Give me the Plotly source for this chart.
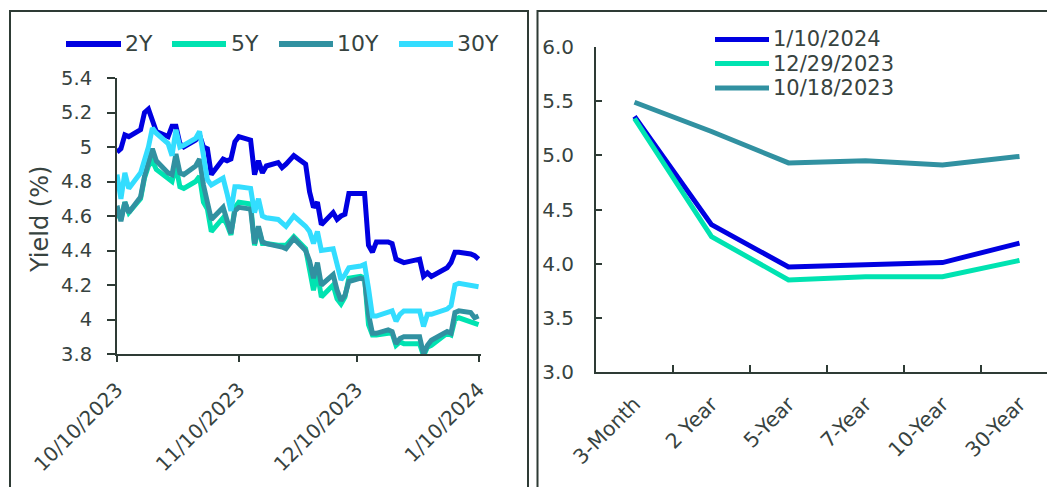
import plotly.graph_objects as go

W, H = 1055, 487
OFF = 8  # page body margin in the browser

# ---------------- data: left panel (daily yields) ----------------
dates = [
    "2023-10-10", "2023-10-11", "2023-10-12", "2023-10-13", "2023-10-16", "2023-10-17", "2023-10-18",
    "2023-10-19", "2023-10-20", "2023-10-23", "2023-10-24", "2023-10-25", "2023-10-26", "2023-10-27",
    "2023-10-30", "2023-10-31",
    "2023-11-01", "2023-11-02", "2023-11-03", "2023-11-06", "2023-11-07", "2023-11-08", "2023-11-09",
    "2023-11-10", "2023-11-13", "2023-11-14", "2023-11-15", "2023-11-16", "2023-11-17", "2023-11-20",
    "2023-11-21", "2023-11-22", "2023-11-24", "2023-11-27", "2023-11-28", "2023-11-29", "2023-11-30",
    "2023-12-01", "2023-12-04", "2023-12-05", "2023-12-06", "2023-12-07", "2023-12-08", "2023-12-11",
    "2023-12-12", "2023-12-13", "2023-12-14", "2023-12-15", "2023-12-18", "2023-12-19", "2023-12-20",
    "2023-12-21", "2023-12-22", "2023-12-26", "2023-12-27", "2023-12-28", "2023-12-29",
    "2024-01-02", "2024-01-03", "2024-01-04", "2024-01-05", "2024-01-08", "2024-01-09", "2024-01-10",
]

y2 = [4.97, 4.99, 5.07, 5.06, 5.10, 5.20, 5.22, 5.16, 5.09, 5.06, 5.12, 5.12, 5.02, 5.00, 5.04, 5.07,
      5.00, 4.99, 4.84, 4.93, 4.92, 4.93, 5.03, 5.06, 5.04, 4.84, 4.92, 4.85, 4.89, 4.91, 4.88, 4.90,
      4.95, 4.90, 4.74, 4.65, 4.68,
      4.55, 4.62, 4.58, 4.60, 4.61, 4.73, 4.73, 4.73, 4.43, 4.39, 4.45, 4.45, 4.44, 4.35, 4.34, 4.33,
      4.35, 4.25, 4.27, 4.25,
      4.30, 4.33, 4.39, 4.39, 4.38, 4.37, 4.35]
y5 = [4.62, 4.58, 4.68, 4.62, 4.70, 4.82, 4.89, 4.92, 4.87, 4.82, 4.80, 4.89, 4.77, 4.76, 4.80, 4.83,
      4.68, 4.64, 4.51, 4.59, 4.55, 4.49, 4.65, 4.68, 4.67, 4.43, 4.53, 4.44, 4.44, 4.43, 4.43, 4.43,
      4.48, 4.41, 4.29, 4.17, 4.27,
      4.13, 4.20, 4.12, 4.09, 4.13, 4.24, 4.25, 4.24, 3.97, 3.91, 3.91, 3.92, 3.92, 3.85, 3.87, 3.86,
      3.86, 3.79, 3.84, 3.85,
      3.92, 3.91, 4.00, 4.01, 3.99, 3.98, 3.97]
y10 = [4.66, 4.57, 4.68, 4.62, 4.71, 4.83, 4.91, 4.99, 4.92, 4.85, 4.84, 4.96, 4.85, 4.84, 4.89, 4.93,
       4.78, 4.67, 4.58, 4.65, 4.58, 4.50, 4.63, 4.65, 4.64, 4.44, 4.54, 4.45, 4.44, 4.43, 4.42, 4.41,
       4.47, 4.40, 4.34, 4.24, 4.33,
       4.20, 4.26, 4.17, 4.11, 4.14, 4.22, 4.24, 4.23, 4.03, 3.92, 3.92, 3.94, 3.93, 3.86, 3.89, 3.90,
       3.90, 3.80, 3.85, 3.88,
       3.93, 3.92, 4.04, 4.05, 4.04, 4.01, 4.02]
y30 = [4.84, 4.70, 4.85, 4.76, 4.85, 4.93, 5.00, 5.11, 5.08, 5.02, 4.95, 5.10, 5.00, 5.01, 5.05, 5.09,
       4.94, 4.81, 4.78, 4.82, 4.73, 4.63, 4.77, 4.77, 4.76, 4.62, 4.70, 4.60, 4.59, 4.58, 4.56, 4.54,
       4.60, 4.54, 4.51, 4.44, 4.51,
       4.40, 4.41, 4.33, 4.23, 4.26, 4.30, 4.31, 4.32, 4.18, 4.02, 4.02, 4.04, 4.05, 3.99, 4.03, 4.05,
       4.05, 3.96, 4.03, 4.03,
       4.06, 4.08, 4.20, 4.21, 4.20, 4.19, 4.19]

left_names = ["2Y", "5Y", "10Y", "30Y"]
left_x_tickvals = ["2023-10-10", "2023-11-10", "2023-12-10", "2024-01-10"]
left_x_ticktext = ["10/10/2023", "11/10/2023", "12/10/2023", "1/10/2024"]
left_y_tickvals = [3.8, 4.0, 4.2, 4.4, 4.6, 4.8, 5.0, 5.2, 5.4]
left_y_ticktext = ["3.8", "4", "4.2", "4.4", "4.6", "4.8", "5", "5.2", "5.4"]

# ---------------- data: right panel (yield curve) ----------------
tenors = ["3-Month", "2 Year", "5-Year", "7-Year", "10-Year", "30-Year"]
curve_names = ["1/10/2024", "12/29/2023", "10/18/2023"]
c_20240110 = [5.36, 4.36, 3.97, 3.99, 4.01, 4.19]
c_20231229 = [5.34, 4.25, 3.85, 3.88, 3.88, 4.03]
c_20231018 = [5.49, 5.22, 4.93, 4.95, 4.91, 4.99]

# ---------------- styles ----------------
BLUE = "#0000E1"
MINT = "#00E3B1"
TEAL = "#3191A1"
CYAN = "#33DDFF"
TXT = "#37433F"
AX = "#2E3B35"
FONT = "DejaVu Sans"

left_colors = [BLUE, MINT, TEAL, CYAN]
right_colors = [BLUE, MINT, TEAL]


def px(x):
    return (x - OFF) / W


def py(y):
    return 1 - (y - OFF) / H


fig = go.Figure()

for name, vals, col in zip(left_names, [y2, y5, y10, y30], left_colors):
    fig.add_trace(go.Scatter(x=dates, y=vals, name=name, mode="lines",
                             line=dict(color=col, width=5), xaxis="x", yaxis="y",
                             showlegend=False))

for name, vals, col in zip(curve_names, [c_20240110, c_20231229, c_20231018], right_colors):
    fig.add_trace(go.Scatter(x=tenors, y=vals, name=name, mode="lines",
                             line=dict(color=col, width=5), xaxis="x2", yaxis="y2",
                             showlegend=False))

fig.update_layout(
    width=W, height=H,
    margin=dict(l=0, r=0, t=0, b=0, autoexpand=False),
    paper_bgcolor="white", plot_bgcolor="white",
    showlegend=False,
    xaxis=dict(
        type="date", domain=[px(117), px(481)], automargin=False,
        range=["2023-10-10", "2024-01-10 15:00"],
        tickvals=left_x_tickvals, ticktext=left_x_ticktext, tickangle=-45,
        tickfont=dict(family=FONT, size=20, color=TXT), ticks="outside", ticklen=6, tickwidth=2,
        tickcolor=AX, ticklabelstandoff=8,
        showline=True, linecolor=AX, linewidth=2, showgrid=False, zeroline=False,
        anchor="y",
    ),
    yaxis=dict(
        domain=[py(354), py(78)], range=[3.8, 5.4], automargin=False,
        tickvals=left_y_tickvals, ticktext=left_y_ticktext,
        tickfont=dict(family=FONT, size=19.5, color=TXT), ticks="outside", ticklen=8, tickwidth=2,
        tickcolor=AX,
        showline=True, linecolor=AX, linewidth=2, showgrid=False, zeroline=False,
        anchor="x", ticklabelstandoff=11,
    ),
    xaxis2=dict(
        type="category", domain=[px(596), px(1058)], range=[-0.5, 5.5],
        automargin=False,
        tickson="boundaries", tickangle=-45, tickfont=dict(family=FONT, size=20.5, color=TXT),
        ticks="inside", ticklen=7, tickwidth=2, tickcolor=AX, ticklabelstandoff=10,
        showline=True, linecolor=AX, linewidth=2, showgrid=False, zeroline=False,
        anchor="y2",
    ),
    yaxis2=dict(
        domain=[py(372), py(47)], range=[3.0, 6.0], dtick=0.5, tickformat=".1f",
        automargin=False,
        tickfont=dict(family=FONT, size=20, color=TXT),
        ticks="inside", ticklen=6, tickwidth=2, tickcolor=AX,
        showline=True, linecolor=AX, linewidth=2, showgrid=False, zeroline=False,
        anchor="x2", ticklabelstandoff=16,
    ),
)

shapes = [
    dict(type="rect", xref="paper", yref="paper", x0=px(10), x1=px(528), y0=py(540), y1=py(11),
         line=dict(color=AX, width=2), fillcolor="rgba(0,0,0,0)", layer="below"),
    dict(type="rect", xref="paper", yref="paper", x0=px(537.5), x1=px(1090), y0=py(540), y1=py(11),
         line=dict(color=AX, width=2), fillcolor="rgba(0,0,0,0)", layer="below"),
]
annotations = [
    dict(text="Yield (%)", xref="paper", yref="paper", x=px(40), y=py(220), textangle=-90,
         showarrow=False, font=dict(family=FONT, size=24, color=TXT), xanchor="center", yanchor="middle"),
]

# left legend (manual)
left_leg = [(66, 121, 123), (172, 226, 229), (279, 333, 335), (399, 453, 455)]
for (x0, x1, xt), name, col in zip(left_leg, left_names, left_colors):
    shapes.append(dict(type="line", xref="paper", yref="paper", x0=px(x0), x1=px(x1),
                       y0=py(44), y1=py(44), line=dict(color=col, width=6)))
    annotations.append(dict(text=name, xref="paper", yref="paper", x=px(xt), y=py(44),
                            xanchor="left", yanchor="middle", showarrow=False,
                            font=dict(family=FONT, size=22, color=TXT)))

# right legend (manual)
for yy, name, col in zip([39.5, 63.5, 88], curve_names, right_colors):
    shapes.append(dict(type="line", xref="paper", yref="paper", x0=px(715), x1=px(769),
                       y0=py(yy), y1=py(yy), line=dict(color=col, width=5)))
    annotations.append(dict(text=name, xref="paper", yref="paper", x=px(771), y=py(yy),
                            xanchor="left", yanchor="middle", showarrow=False,
                            font=dict(family=FONT, size=21, color=TXT)))

fig.update_layout(shapes=shapes, annotations=annotations)

fig.write_html("out.html")
